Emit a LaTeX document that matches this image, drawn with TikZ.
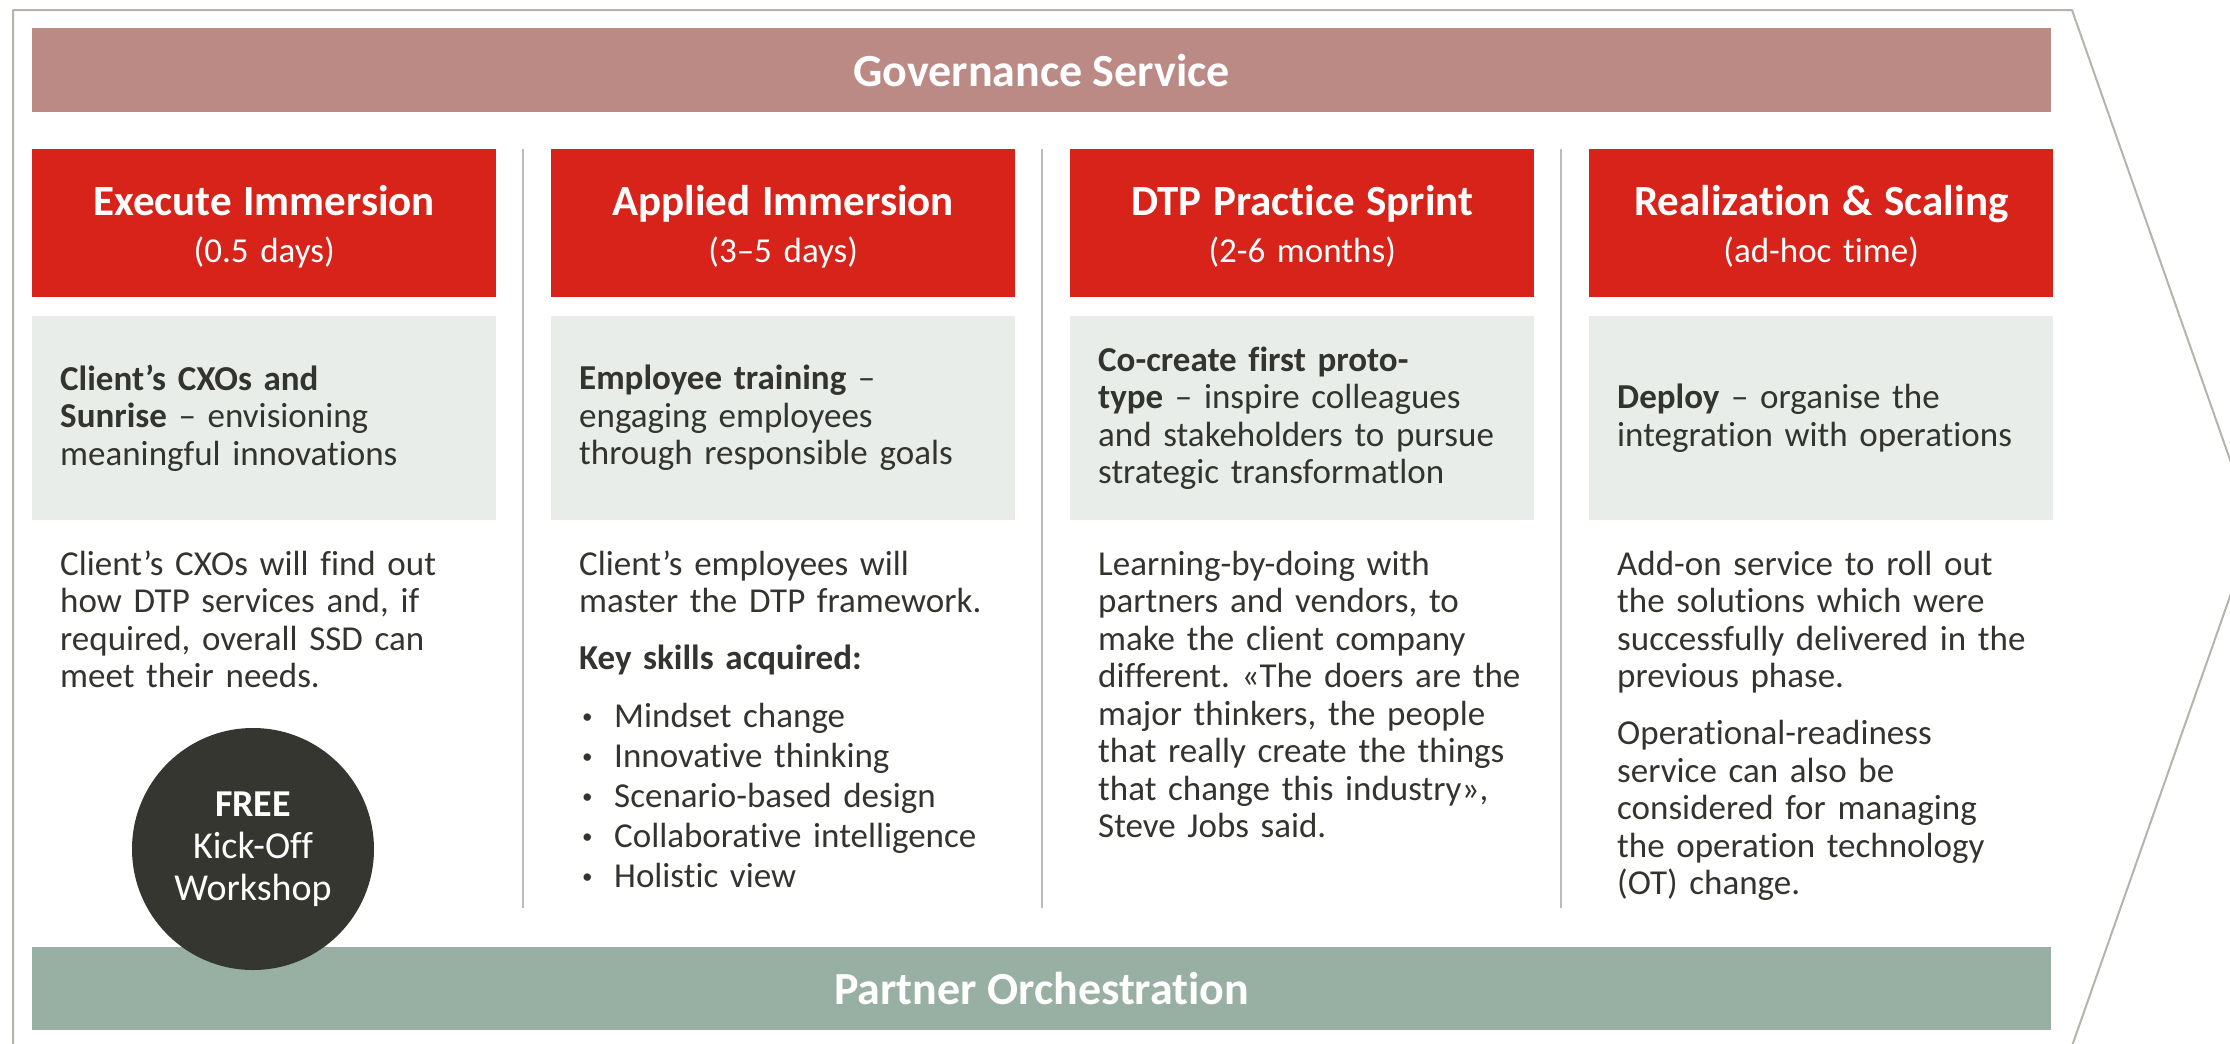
\documentclass[tikz,border=0pt]{standalone}
\usepackage{fontspec}
\setmainfont{Carlito}[Ligatures=NoCommon]
\frenchspacing

\definecolor{govband}{RGB}{187,138,133}
\definecolor{phasered}{RGB}{216,35,27}
\definecolor{focusgrey}{RGB}{232,237,233}
\definecolor{partnerband}{RGB}{151,176,163}
\definecolor{dotgrey}{RGB}{54,54,48}
\definecolor{textdark}{RGB}{51,51,47}
\definecolor{framegrey}{RGB}{182,178,172}
\definecolor{sepgrey}{RGB}{190,186,182}

\tikzset{
  band/.style={fill=govband, text=white, minimum width=2019pt, minimum height=84pt, inner sep=0pt, anchor=north west, font=\fontsize{46}{50}\selectfont\bfseries},
  phase/.style={fill=phasered, text=white, text width=440pt, inner xsep=12pt, inner ysep=0pt, text height=66pt, text depth=82pt, align=center, anchor=north west, font=\fontsize{35}{47}\selectfont},
  focus/.style={fill=focusgrey, text=textdark, text width=408pt, inner xsep=28pt, inner ysep=0pt, minimum height=204pt, align=left, anchor=north west, font=\fontsize{35}{37.5}\selectfont},
  body/.style={text=textdark, text width=430pt, inner sep=0pt, align=left, anchor=base west, font=\fontsize{35}{37.5}\selectfont},
  freedot/.style={circle, fill=dotgrey, text=white, minimum size=242pt, inner sep=0pt, align=center, font=\fontsize{38}{42}\selectfont},
  sepline/.style={draw=sepgrey, line width=1.5pt},
  frame/.style={draw=framegrey, line width=2pt, line join=round}
}
\newcommand{\skill}[1]{\makebox[35pt][l]{\hspace*{3pt}\raisebox{4pt}{\fontsize{21}{21}\selectfont\textbullet}}#1}
\newcommand{\phasehead}[1]{{\fontsize{43}{47}\selectfont\bfseries #1}}

\begin{document}
\begin{tikzpicture}[x=1pt,y=-1pt]
\useasboundingbox (0,0) rectangle (2230,1044);
\clip (0,0) rectangle (2230,1044);
%\draw[help lines,step=100] (0,0) grid (2230,1044);
\draw[frame] (13,1060) -- (13,10) -- (2072,10) -- (2254,528) -- (2072,1046);

\node[band] (gov) at (32,28) {Governance Service};

\draw[sepline] (523,149) -- (523,908);
\draw[sepline] (1042,149) -- (1042,908);
\draw[sepline] (1561,149) -- (1561,908);

\node[phase] (ph1) at (32,149) {\phasehead{Execute Immersion}\\(0.5 days)};
\node[phase] (ph2) at (551,149) {\phasehead{Applied Immersion}\\(3–5 days)};
\node[phase] (ph3) at (1070,149) {\phasehead{DTP Practice Sprint}\\(2-6 months)};
\node[phase] (ph4) at (1589,149) {\phasehead{Realization \& Scaling}\\(ad-hoc time)};

\node[focus] (fo1) at (32,316) {\textbf{Client's CXOs and}\\\textbf{Sunrise} – envisioning\\meaningful innovations};
\node[focus] (fo2) at (551,316) {\textbf{Employee training} –\\engaging employees\\through responsible goals};
\node[focus] (fo3) at (1070,316) {\textbf{Co-create first proto-}\\\textbf{type} – inspire colleagues\\and stakeholders to pursue\\strategic transformatlon};
\node[focus] (fo4) at (1589,316) {\textbf{Deploy} – organise the\\integration with operations};

\node[body] (bd1) at (60,575) {Client's CXOs will find out\\how DTP services and, if\\required, overall SSD can\\meet their needs.};
\node[body] (bd2) at (579,575) {Client's employees will\\master the DTP framework.\\[19.5pt]
  \textbf{Key skills acquired:}\\[20.5pt]
  \skill{Mindset change}\\[2.5pt]
  \skill{Innovative thinking}\\[2.5pt]
  \skill{Scenario-based design}\\[2.5pt]
  \skill{Collaborative intelligence}\\[2.5pt]
  \skill{Holistic view}};
\node[body] (bd3) at (1098,575) {Learning-by-doing with\\partners and vendors, to\\make the client company\\different. «The doers are the\\major thinkers, the people\\that really create the things\\that change this industry»,\\Steve Jobs said.};
\node[body] (bd4) at (1617,575) {Add-on service to roll out\\the solutions which were\\successfully delivered in the\\previous phase.\\[19.5pt]
  Operational-readiness\\service can also be\\considered for managing\\the operation technology\\(OT) change.};

\node[band, fill=partnerband, minimum height=83pt] (partner) at (32,947) {Partner Orchestration};
\node[freedot] (free) at (253,849) {\textbf{FREE}\\Kick-Off\\Workshop};
\end{tikzpicture}
\end{document}
